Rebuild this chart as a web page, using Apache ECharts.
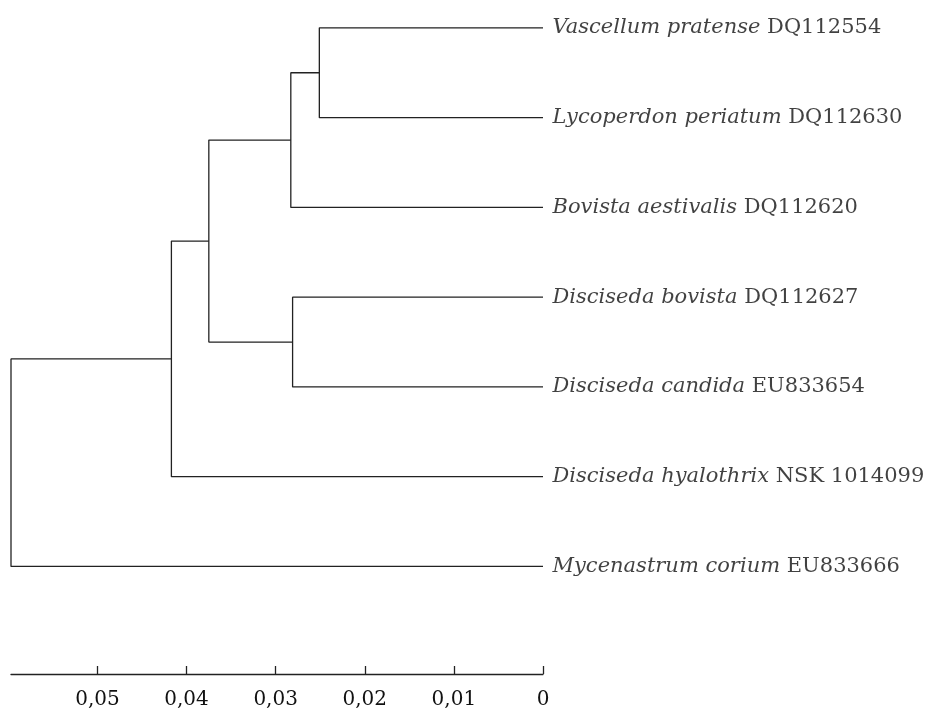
<!DOCTYPE html>
<html>
<head>
<meta charset="utf-8">
<script src="https://cdn.jsdelivr.net/npm/echarts@6/dist/echarts.min.js"></script>
<style>
  html, body { margin: 0; padding: 0; background: #fff; }
  #chart { width: 941px; height: 710px; }
</style>
</head>
<body>
<div id="chart"></div>
<script>
// leaves, top to bottom
const leafGenus = [
  "Vascellum pratense",
  "Lycoperdon periatum",
  "Bovista aestivalis",
  "Disciseda bovista",
  "Disciseda candida",
  "Disciseda hyalothrix",
  "Mycenastrum corium",
];
const leafCode = [
  "DQ112554",
  "DQ112630",
  "DQ112620",
  "DQ112627",
  "EU833654",
  "NSK 1014099",
  "EU833666",
];
// internal nodes get ids 7..12 in this order
const nodeLeft = [0, 7, 3, 8, 10, 11];
const nodeRight = [1, 2, 4, 9, 5, 6];
const nodeHeight = [0.0251, 0.0283, 0.0281, 0.0375, 0.0417, 0.0597];
const tickValues = [0, 0.01, 0.02, 0.03, 0.04, 0.05];

const nLeaf = leafGenus.length;
const posY = [];
const posH = [];
for (let i = 0; i < nLeaf; i++) {
  posY.push(i);
  posH.push(0);
}
const series = [];
nodeLeft.forEach((l, k) => {
  const r = nodeRight[k];
  const h = nodeHeight[k];
  posY.push((posY[l] + posY[r]) / 2);
  posH.push(h);
  series.push({
    type: "line",
    data: [
      [posH[l], posY[l]],
      [h, posY[l]],
      [h, posY[r]],
      [posH[r], posY[r]],
    ],
    showSymbol: false,
    silent: true,
    lineStyle: { color: "#222", width: 1.3 },
  });
});

series.push({
  type: "scatter",
  symbolSize: 1,
  silent: true,
  itemStyle: { color: "rgba(0,0,0,0)" },
  data: leafGenus.map((g, i) => [0, i]),
  label: {
    show: true,
    position: "right",
    distance: 9,
    color: "#111",
    formatter: (p) => "{i|" + leafGenus[p.dataIndex] + "}{r| " + leafCode[p.dataIndex] + "}",
    rich: {
      i: { fontFamily: "DejaVu Serif", fontStyle: "italic", fontSize: 21, color: "#111" },
      r: { fontFamily: "DejaVu Serif", fontSize: 21, color: "#111" },
    },
  },
});

const chart = echarts.init(document.getElementById("chart"));
chart.setOption({
  animation: false,
  grid: { left: 11, right: 398, top: 0, bottom: 33 },
  xAxis: {
    type: "value",
    inverse: true,
    min: 0,
    max: 0.0597,
    splitLine: { show: false },
    axisLine: { show: true, onZero: false, lineStyle: { color: "#222", width: 1.3 } },
    axisTick: {
      show: true,
      inside: true,
      length: 8,
      customValues: tickValues,
      lineStyle: { color: "#222", width: 1.3 },
    },
    axisLabel: {
      customValues: tickValues,
      margin: 16,
      fontFamily: "DejaVu Serif",
      fontSize: 20,
      color: "#111",
      formatter: (v) => (v === 0 ? "0" : v.toFixed(2).replace(".", ",")),
    },
  },
  yAxis: {
    type: "value",
    inverse: true,
    min: -0.3105,
    max: 7.198,
    show: false,
  },
  series: series,
});
</script>
</body>
</html>
